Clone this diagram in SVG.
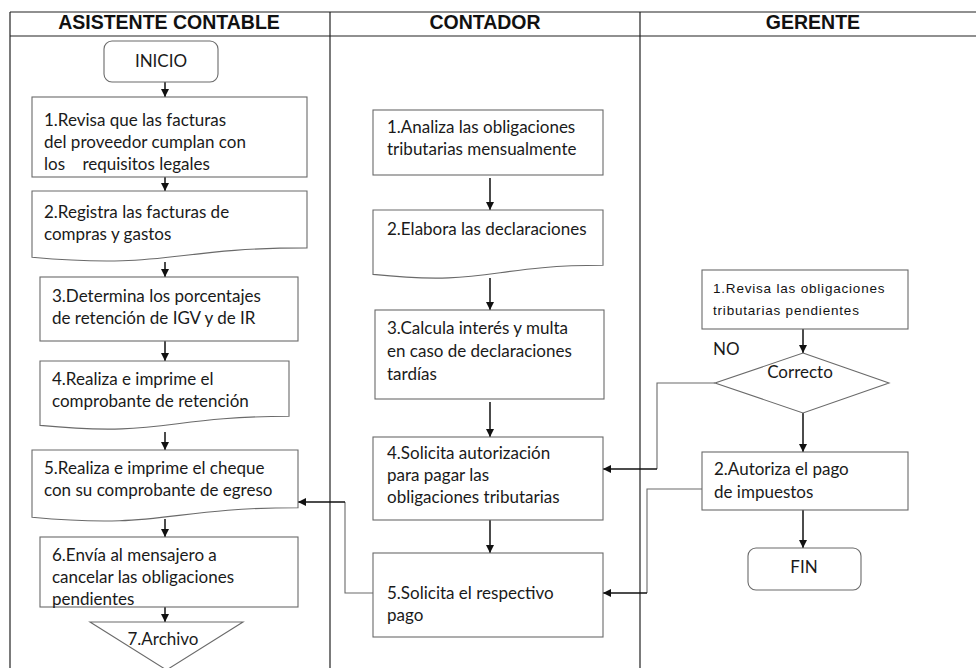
<svg xmlns="http://www.w3.org/2000/svg" width="976" height="668" viewBox="0 0 976 668">
<style>
.lane{stroke:#222;stroke-width:1.2;fill:none}
.hdr{font-family:"Liberation Sans",Arial,sans-serif;font-weight:bold;font-size:19.5px;fill:#111;text-anchor:middle}
.box{fill:#fff;stroke:#6a6a6a;stroke-width:1.1}
.t{font-family:Lato,"Noto Sans",sans-serif;font-size:17px;fill:#1a1a1a}
.ta{font-family:"Liberation Sans",Arial,sans-serif;font-size:13.5px;letter-spacing:0.8px;fill:#111}
.c{text-anchor:middle}
.arr{stroke:#111;stroke-width:1.5;fill:none;marker-end:url(#ah)}
.route{stroke:#6a6a6a;stroke-width:1.1;fill:none}
</style>
<defs>
<marker id="ah" viewBox="0 0 10 10" refX="10" refY="5" markerUnits="userSpaceOnUse" markerWidth="8" markerHeight="8" orient="auto">
<path d="M0,0 L10,5 L0,10 z" fill="#111"/>
</marker>
</defs>
<rect width="976" height="668" fill="#fff"/>
<g id="lanes">
<line class="lane" x1="10" y1="12" x2="976" y2="12"/>
<line class="lane" x1="10" y1="36" x2="976" y2="36"/>
<line class="lane" x1="10" y1="12" x2="10" y2="668"/>
<line class="lane" x1="330" y1="12" x2="330" y2="668"/>
<line class="lane" x1="640" y1="12" x2="640" y2="668"/>
<text class="hdr" x="169" y="29">ASISTENTE CONTABLE</text>
<text class="hdr" x="485" y="29">CONTADOR</text>
<text class="hdr" x="813" y="29">GERENTE</text>
</g>
<g id="connectors">
<line class="arr" x1="165" y1="82" x2="165" y2="97"/>
<line class="arr" x1="165" y1="177" x2="165" y2="191"/>
<line class="arr" x1="165" y1="262" x2="165" y2="277"/>
<line class="arr" x1="165" y1="341" x2="165" y2="361"/>
<line class="arr" x1="165" y1="432" x2="165" y2="450"/>
<line class="arr" x1="165" y1="519" x2="165" y2="537"/>
<line class="arr" x1="165" y1="607" x2="165" y2="622"/>
<line class="arr" x1="490" y1="178" x2="490" y2="210"/>
<line class="arr" x1="490" y1="278" x2="490" y2="310"/>
<line class="arr" x1="490" y1="402" x2="490" y2="437"/>
<line class="arr" x1="490" y1="520" x2="490" y2="553"/>
<line class="arr" x1="803" y1="329" x2="803" y2="353"/>
<line class="arr" x1="803" y1="413" x2="803" y2="452"/>
<line class="arr" x1="803" y1="510" x2="803" y2="548"/>
<polyline class="route" points="715,383 657,383 657,469"/>
<line class="arr" x1="657" y1="469" x2="603" y2="469"/>
<polyline class="route" points="702,489 647,489 647,593"/>
<line class="arr" x1="647" y1="593" x2="603" y2="593"/>
<polyline class="route" points="373,593 345,593 345,502"/>
<line class="arr" x1="345" y1="502" x2="298" y2="502"/>
</g>
<g id="inicio">
<rect class="box" x="104" y="41" width="114" height="41" rx="8"/>
<text class="t c" x="161" y="67">INICIO</text>
</g>
<g id="a1">
<rect class="box" x="32" y="97" width="275" height="80"/>
<text class="t" x="44" y="126">1.Revisa que las facturas</text>
<text class="t" x="44" y="148">del proveedor cumplan con</text>
<text class="t" x="44" y="170" style="white-space:pre">los    requisitos legales</text>
</g>
<g id="a2">
<path class="box" d="M32,191 H307 V247.9 C169.5,247.9 169.5,269.6 32,257.3 Z"/>
<text class="t" x="44" y="218">2.Registra las facturas de</text>
<text class="t" x="44" y="240">compras y gastos</text>
</g>
<g id="a3">
<rect class="box" x="40" y="277" width="258" height="64"/>
<text class="t" x="52" y="302">3.Determina los porcentajes</text>
<text class="t" x="52" y="324">de retención de IGV y de IR</text>
</g>
<g id="a4">
<path class="box" d="M40,361 H289 V416.3 C164.5,416.3 164.5,437.4 40,425.4 Z"/>
<text class="t" x="52" y="385">4.Realiza e imprime el</text>
<text class="t" x="52" y="407">comprobante de retención</text>
</g>
<g id="a5">
<path class="box" d="M32,450 H298 V507.7 C165,507.7 165,529.7 32,517.2 Z"/>
<text class="t" x="44" y="474">5.Realiza e imprime el cheque</text>
<text class="t" x="44" y="496">con su comprobante de egreso</text>
</g>
<g id="a6">
<rect class="box" x="40" y="537" width="258" height="70"/>
<text class="t" x="52" y="561">6.Envía al mensajero a</text>
<text class="t" x="52" y="583">cancelar las obligaciones</text>
<text class="t" x="52" y="605">pendientes</text>
</g>
<g id="a7">
<polygon class="box" points="90,622 243,622 166.5,670"/>
<text class="t c" x="163" y="645">7.Archivo</text>
</g>
<g id="c1">
<rect class="box" x="373" y="110" width="230" height="65"/>
<text class="t" x="387" y="133">1.Analiza las obligaciones</text>
<text class="t" x="387" y="155">tributarias mensualmente</text>
</g>
<g id="c2">
<path class="box" d="M373,210 H603 V265.3 C488,265.3 488,286.4 373,274.4 Z"/>
<text class="t" x="387" y="235">2.Elabora las declaraciones</text>
</g>
<g id="c3">
<rect class="box" x="375" y="310" width="229" height="89"/>
<text class="t" x="387" y="334">3.Calcula interés y multa</text>
<text class="t" x="387" y="357">en caso de declaraciones</text>
<text class="t" x="387" y="380">tardías</text>
</g>
<g id="c4">
<rect class="box" x="373" y="437" width="230" height="83"/>
<text class="t" x="387" y="459">4.Solicita autorización</text>
<text class="t" x="387" y="481">para pagar las</text>
<text class="t" x="387" y="503">obligaciones tributarias</text>
</g>
<g id="c5">
<rect class="box" x="373" y="553" width="230" height="84"/>
<text class="t" x="387" y="599">5.Solicita el respectivo</text>
<text class="t" x="387" y="621">pago</text>
</g>
<g id="g1">
<rect class="box" x="702" y="270" width="206" height="59"/>
<text class="ta" x="713" y="293">1.Revisa las obligaciones</text>
<text class="ta" x="713" y="315">tributarias pendientes</text>
</g>
<g id="decision">
<polygon class="box" points="803,353 889,383 803,413 715,383"/>
<text class="t c" x="800" y="378">Correcto</text>
<text class="t" x="713" y="355">NO</text>
</g>
<g id="g2">
<rect class="box" x="702" y="452" width="206" height="58"/>
<text class="t" x="714" y="475">2.Autoriza el pago</text>
<text class="t" x="714" y="498">de impuestos</text>
</g>
<g id="fin">
<rect class="box" x="748" y="548" width="113" height="42" rx="8"/>
<text class="t c" x="804" y="573">FIN</text>
</g>
</svg>
